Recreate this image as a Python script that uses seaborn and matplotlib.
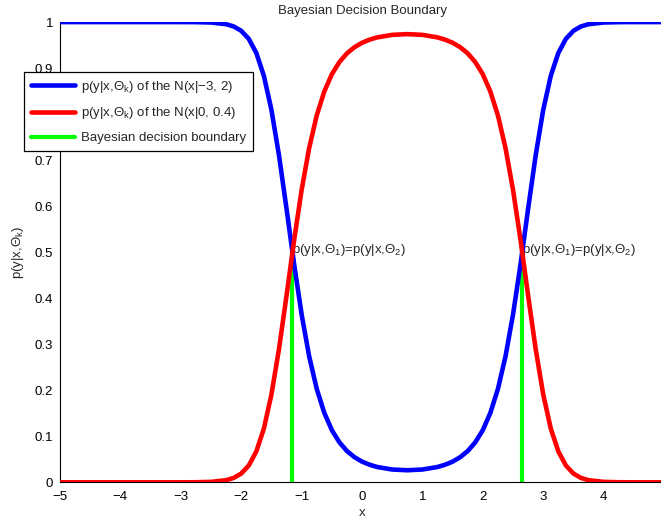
import matplotlib
matplotlib.use("Agg")
import matplotlib.pyplot as plt
import seaborn as sns
import pandas as pd

# Sample positions along x
x_vals = [-5, -4.5, -4, -3.5, -3, -2.75, -2.5, -2.25, -2.125, -2, -1.875, -1.75,
          -1.625, -1.5, -1.375, -1.25, -1.125, -1, -0.875, -0.75, -0.625, -0.5,
          -0.375, -0.25, -0.125, 0, 0.125, 0.25, 0.5, 0.75, 1, 1.25, 1.375, 1.5,
          1.625, 1.75, 1.875, 2, 2.125, 2.25, 2.375, 2.5, 2.625, 2.75, 2.875, 3,
          3.125, 3.25, 3.375, 3.5, 3.625, 3.75, 4, 4.25, 4.5, 5]

# Posterior of class 1, N(x|-3, 2)
post_class1 = [1.0, 1.0, 1.0, 1.0, 1.0, 0.99982, 0.99904, 0.9954, 0.9905, 0.9810,
               0.9635, 0.9329, 0.8832, 0.8093, 0.7105, 0.5945, 0.4745, 0.3647,
               0.2735, 0.2030, 0.1510, 0.1135, 0.0869, 0.0680, 0.0546, 0.0450,
               0.0382, 0.0333, 0.0278, 0.0262, 0.0278, 0.0333, 0.0382, 0.0450,
               0.0546, 0.0680, 0.0869, 0.1135, 0.1510, 0.2030, 0.2735, 0.3647,
               0.4745, 0.5945, 0.7105, 0.8093, 0.8832, 0.9329, 0.9635, 0.9810,
               0.9905, 0.9954, 0.99904, 0.99982, 1.0, 1.0]

# Posterior of class 2, N(x|0, 0.4)
post_class2 = [0.0, 0.0, 0.0, 0.0, 0.0, 0.00018, 0.00096, 0.0046, 0.0095, 0.0190,
               0.0365, 0.0671, 0.1168, 0.1907, 0.2895, 0.4055, 0.5255, 0.6353,
               0.7265, 0.7970, 0.8490, 0.8865, 0.9131, 0.9320, 0.9454, 0.9550,
               0.9618, 0.9667, 0.9722, 0.9738, 0.9722, 0.9667, 0.9618, 0.9550,
               0.9454, 0.9320, 0.9131, 0.8865, 0.8490, 0.7970, 0.7265, 0.6353,
               0.5255, 0.4055, 0.2895, 0.1907, 0.1168, 0.0671, 0.0365, 0.0190,
               0.0095, 0.0046, 0.00096, 0.00018, 0.0, 0.0]

# Points where the two posteriors are equal
boundary_x = [-1.152, 2.652]
boundary_y = 0.5

x_ticks = [-5, -4, -3, -2, -1, 0, 1, 2, 3, 4]
x_tick_labels = ["−5", "−4", "−3", "−2", "−1", "0", "1", "2", "3", "4"]
y_ticks = [0, 0.1, 0.2, 0.3, 0.4, 0.5, 0.6, 0.7, 0.8, 0.9, 1]
y_tick_labels = ["0", "0.1", "0.2", "0.3", "0.4", "0.5", "0.6", "0.7", "0.8", "0.9", "1"]

label1 = r"p(y|x,Θ$_\mathrm{k}$) of the N(x|−3, 2)"
label2 = r"p(y|x,Θ$_\mathrm{k}$) of the N(x|0, 0.4)"
label3 = "Bayesian decision boundary"

FS = 9.5

sns.set_style("white")
plt.rcParams["font.family"] = ["Liberation Sans", "DejaVu Sans"]
plt.rcParams["mathtext.fontset"] = "custom"
plt.rcParams["mathtext.rm"] = "Liberation Sans"
plt.rcParams["mathtext.it"] = "Liberation Sans:italic"

df = pd.DataFrame({"x": x_vals, "c1": post_class1, "c2": post_class2})

fig = plt.figure(figsize=(6.61, 5.23), dpi=100)
ax = fig.add_axes([0.0908, 0.0778, 0.9138, 0.880])

sns.lineplot(data=df, x="x", y="c1", ax=ax, color="#0000ff", linewidth=3.3,
             label=label1, zorder=3)
sns.lineplot(data=df, x="x", y="c2", ax=ax, color="#ff0000", linewidth=3.3,
             label=label2, zorder=3)
for i, bx in enumerate(boundary_x):
    ax.plot([bx, bx], [0, boundary_y], color="#00ff00", linewidth=3.0,
            zorder=2, label=label3 if i == 0 else None)
    ax.text(bx, boundary_y + 0.004, r"p(y|x,Θ$_\mathrm{1}$)=p(y|x,Θ$_\mathrm{2}$)",
            ha="left", va="center", fontsize=FS, zorder=1)

ax.set_xlim(-5, 5)
ax.set_ylim(0, 1)
ax.set_xticks(x_ticks)
ax.set_xticklabels(x_tick_labels)
ax.set_yticks(y_ticks)
ax.set_yticklabels(y_tick_labels)
ax.tick_params(direction="in", length=4, width=0.8, labelsize=FS, pad=5,
               colors="black")
ax.tick_params(axis="x", pad=6)

for side in ["top", "right"]:
    ax.spines[side].set_visible(False)
for side in ["left", "bottom"]:
    ax.spines[side].set_color("black")
    ax.spines[side].set_linewidth(0.8)

ax.set_title("Bayesian Decision Boundary", fontsize=FS, pad=6)
ax.set_xlabel("x", fontsize=FS, labelpad=3)
ax.set_ylabel(r"p(y|x,Θ$_\mathrm{k}$)", fontsize=FS, labelpad=6)

leg = ax.legend(loc="upper left", bbox_to_anchor=(-0.0596, 0.891),
                borderaxespad=0, fontsize=FS, handlelength=3.4,
                handletextpad=0.45, labelspacing=0.8, borderpad=0.5,
                frameon=True, fancybox=False, framealpha=1)
leg.get_frame().set_edgecolor("black")
leg.get_frame().set_linewidth(0.9)
leg.set_zorder(5)

fig.savefig("out.png", dpi=100)
